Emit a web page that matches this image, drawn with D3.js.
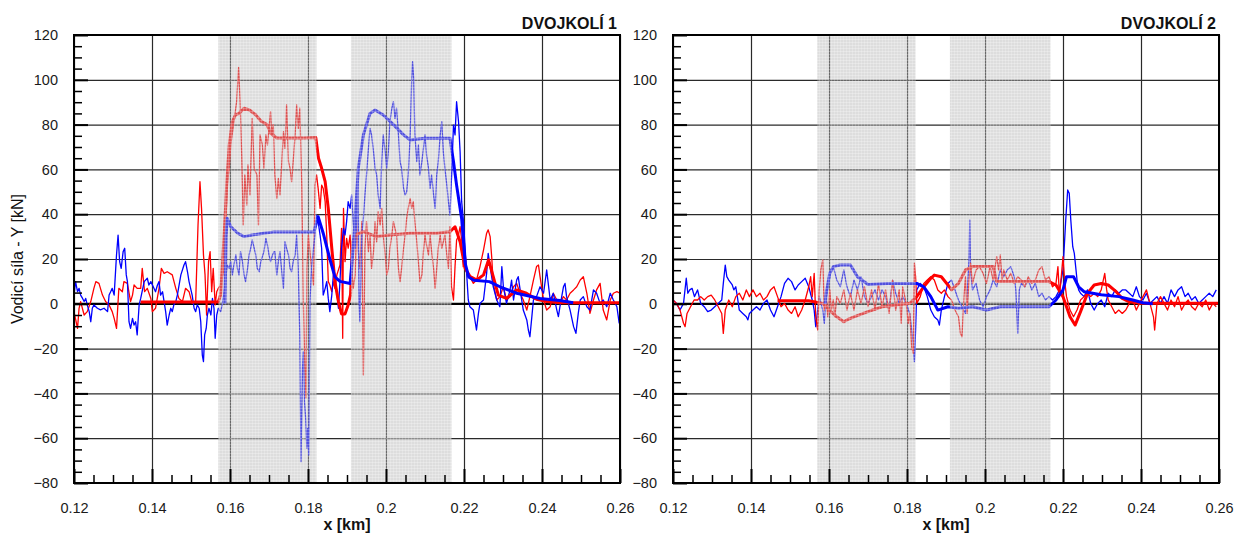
<!DOCTYPE html>
<html>
<head>
<meta charset="utf-8">
<script src="https://cdn.jsdelivr.net/npm/d3@7"></script>
<style>
  body { margin: 0; background: #fff; }
  svg { display: block; font-family: "Liberation Sans", Arial, sans-serif; }
</style>
</head>
<body>
<svg width="1235" height="534"></svg>
<script>
// tick labels
let xTicks = [0.12, 0.14, 0.16, 0.18, 0.2, 0.22, 0.24, 0.26];
let xTickLabels = ["0.12", "0.14", "0.16", "0.18", "0.2", "0.22", "0.24", "0.26"];
let yTicks = [-80, -60, -40, -20, 0, 20, 40, 60, 80, 100, 120];
let xMinor = d3.range(0.125, 0.26, 0.005);
let yMinor = d3.range(-75, 120, 5);
// grey zones (km)
let zones = [[0.157, 0.1822], [0.191, 0.2168]];

// DVOJKOLÍ 1 - raw and filtered guiding force [x km, Y kN]
let w1RedRaw = [[.1200,-3.5],[.1209,-11],[.1213,-2],[.1217,1],[.1226,-5],[.1234,-3.5],[.1243,1],[.1251,6.9],[.1256,9.9],[.1264,9.1],[.1273,3.9],[.1281,1],[.1290,-0.5],[.1298,-3.5],[.1303,-6.5],[.1309,-11],[.1315,6.9],[.1324,5.4],[.1328,9.9],[.1337,9.1],[.1345,1],[.1350,3.9],[.1354,8.4],[.1362,6.9],[.1371,6.9],[.1375,15.8],[.1381,5.4],[.1388,6.9],[.1397,2.4],[.1401,-3.5],[.1409,-2],[.1418,6.9],[.1424,15.8],[.1431,13.6],[.1439,14.3],[.1452,12.9],[.1461,6.9],[.1469,2.4],[.1478,1],[.1486,6.9],[.1495,5.4],[.1503,0.2],[.1512,1],[.1518,35.2],[.1523,54.5],[.1527,42.6],[.1532,21.8],[.1536,12.9],[.1540,-5],[.1545,18.8],[.1549,23.3],[.1553,5.4],[.1557,15.8],[.1562,-0.5],[.1566,5.4],[.1570,6.9],[.1576,8.4],[.1585,15.8],[.1589,33.7],[.1593,53],[.1598,60.5],[.1602,70.9],[.1610,81.3],[.1617,90.2],[.1622,105.5],[.1626,90.2],[.1630,66.4],[.1634,35.2],[.1638,57.5],[.1643,44.1],[.1646,62],[.1651,48.6],[.1657,82.8],[.1662,60.5],[.1669,57.5],[.1673,35.2],[.1677,75.4],[.1683,70.9],[.1687,60.5],[.1692,75.4],[.1696,70.9],[.1704,85.8],[.1707,75.4],[.1711,80],[.1715,57.5],[.1720,47],[.1724,56],[.1728,48.6],[.1732,60.5],[.1737,76.8],[.1741,69.4],[.1745,88.8],[.1750,63.5],[.1754,60.5],[.1758,54.5],[.1762,63.5],[.1767,75.4],[.1771,88.8],[.1775,78.3],[.1779,87.3],[.1784,53],[.1788,1],[.1792,-28.8],[.1795,-42],[.1797,15.8],[.1801,30.7],[.1805,23.3],[.1809,15.8],[.1814,8.4],[.1818,53],[.1822,57.5],[.1826,51.5],[.1831,42.6],[.1835,53],[.1839,51.5],[.1844,45.6],[.1848,30.7],[.1852,9.9],[.1856,8.4],[.1861,5.4],[.1865,9.9],[.1869,6.9],[.1874,12.9],[.1882,17.3],[.1886,33.7],[.1889,-15.4],[.1891,42.6],[.1895,18.8],[.1899,29.2],[.1903,24.8],[.1908,30.7],[.1912,15.8],[.1916,6.9],[.1921,12.9],[.1925,36.7],[.1929,23.3],[.1933,15.8],[.1938,36.7],[.1942,-31.8],[.1946,24.8],[.1950,36.7],[.1955,23.3],[.1959,30.7],[.1963,15.8],[.1968,23.3],[.1972,36.7],[.1976,27.7],[.1980,41.1],[.1985,35.2],[.1989,42.6],[.1993,30.7],[.1998,21.8],[.2002,12.9],[.2006,15.8],[.2010,24.8],[.2015,30.7],[.2019,36.7],[.2023,33.7],[.2027,30.7],[.2032,15.8],[.2036,9.9],[.2040,15.8],[.2045,24.8],[.2049,30.7],[.2053,38.2],[.2057,42.6],[.2062,47],[.2066,42.6],[.2070,45.6],[.2074,36.7],[.2079,27.7],[.2083,18.8],[.2087,9.9],[.2092,12.9],[.2096,23.3],[.2100,30.7],[.2104,26.2],[.2109,21.8],[.2113,30.7],[.2117,23.3],[.2122,15.8],[.2126,6.9],[.2130,15.8],[.2134,24.8],[.2139,30.7],[.2143,24.8],[.2147,27.7],[.2151,30.7],[.2156,21.8],[.2160,15.8],[.2164,34.4],[.2168,7.6],[.2173,1.7],[.2177,16.6],[.2181,28.5],[.2185,30],[.2190,34.4],[.2194,28.5],[.2198,16.6],[.2203,22.5],[.2207,13.6],[.2215,12.1],[.2224,9.1],[.2232,10.6],[.2241,16.6],[.2250,24],[.2258,31.5],[.2262,33],[.2267,30],[.2271,21],[.2275,9.1],[.2284,1.7],[.2292,3.2],[.2301,7.6],[.2309,1.7],[.2318,3.2],[.2327,7.6],[.2335,9.1],[.2344,4.7],[.2352,1.7],[.2361,-2.8],[.2369,3.2],[.2378,10.6],[.2386,16.6],[.2391,17.3],[.2395,12.1],[.2404,1.7],[.2412,-2.8],[.2421,-1.3],[.2429,4.7],[.2438,1.7],[.2446,0.2],[.2455,3.2],[.2463,1.7],[.2472,4.7],[.2481,6.2],[.2489,7.6],[.2498,10.6],[.2506,12.1],[.2515,4.7],[.2523,-4.3],[.2532,1.7],[.2540,6.2],[.2549,9.1],[.2557,-2.8],[.2566,-7.2],[.2575,1.7],[.2583,4.7],[.2592,5.4],[.2600,4.7]];

let w1BlueRaw = [[.1200,3.9],[.1204,9.9],[.1209,5.4],[.1213,6.9],[.1217,3.9],[.1222,2.4],[.1226,1],[.1230,2.4],[.1234,-0.5],[.1239,-3.5],[.1243,-8],[.1247,-2],[.1251,-0.5],[.1260,-2],[.1268,-2.7],[.1277,-2],[.1286,-3.5],[.1290,3.9],[.1294,5.4],[.1298,6.9],[.1303,3.9],[.1307,15.8],[.1309,21.8],[.1313,30.7],[.1317,18.8],[.1321,15.8],[.1326,23.3],[.1330,24.8],[.1334,12.9],[.1337,9.9],[.1341,-8],[.1345,-11],[.1350,-6.5],[.1354,-9.5],[.1358,-8],[.1362,-13.9],[.1367,-0.5],[.1371,2.4],[.1380,9.9],[.1388,11.4],[.1392,8.4],[.1397,9.9],[.1405,6.9],[.1409,5.4],[.1414,8.4],[.1418,9.9],[.1422,3.9],[.1427,5.4],[.1431,1],[.1435,-3.5],[.1439,-9.5],[.1444,-5],[.1448,-2],[.1452,-3.5],[.1456,-0.5],[.1461,1],[.1465,3.9],[.1474,12.9],[.1482,17.3],[.1486,18.8],[.1491,14.3],[.1495,9.9],[.1499,6.9],[.1503,3.9],[.1508,-2],[.1512,-3.5],[.1516,-0.5],[.1521,-2],[.1525,-8],[.1529,-22.9],[.1532,-25.8],[.1535,-13.9],[.1539,-11],[.1542,-5],[.1546,-2],[.1551,-5],[.1555,2.4],[.1559,-2],[.1562,-15.4],[.1566,-5],[.1570,-2],[.1576,-3.5],[.1580,-0.5],[.1585,5.4],[.1589,11.4],[.1593,17.3],[.1598,15.8],[.1602,18.8],[.1606,12.9],[.1610,17.3],[.1615,21.8],[.1619,15.8],[.1623,12.9],[.1627,23.3],[.1632,18.8],[.1636,12.9],[.1640,9.9],[.1645,15.8],[.1649,21.8],[.1653,24.8],[.1657,28.5],[.1662,24.8],[.1666,21.8],[.1670,15.8],[.1675,14.3],[.1679,18.8],[.1687,23.3],[.1692,29.2],[.1696,26.2],[.1700,21.8],[.1704,18.8],[.1709,21.8],[.1713,23.3],[.1715,23.3],[.1720,12.9],[.1724,18.8],[.1728,23.3],[.1732,15.8],[.1737,6.9],[.1741,27.7],[.1745,24.8],[.1750,21.8],[.1754,15.8],[.1758,14.3],[.1762,18.8],[.1767,21.8],[.1771,30.7],[.1775,15.8],[.1779,-13.9],[.1782,-70.5],[.1786,-28.8],[.1788,-21.4],[.1791,-43.7],[.1794,-51],[.1797,-64.5],[.1799,-55.6],[.1802,-67.5],[.1805,1],[.1809,15.8],[.1814,24.8],[.1818,30.7],[.1822,39.6],[.1826,36.7],[.1831,30.7],[.1835,24.8],[.1839,3.9],[.1844,6.9],[.1848,9.9],[.1852,2.4],[.1856,-3.5],[.1861,3.9],[.1865,12.9],[.1869,11.4],[.1874,5.4],[.1878,-2],[.1882,9.9],[.1886,24.8],[.1891,33.7],[.1895,30.7],[.1899,36.7],[.1903,45.6],[.1908,42.6],[.1912,48.6],[.1916,36.7],[.1921,24.8],[.1925,36.7],[.1928,54.5],[.1931,1],[.1933,-8],[.1938,30.7],[.1942,38.2],[.1946,48.6],[.1950,57.5],[.1955,69.4],[.1959,78.3],[.1963,75.4],[.1968,67.9],[.1972,60.5],[.1976,57.5],[.1980,48.6],[.1985,42.6],[.1989,63.5],[.1993,75.4],[.1998,67.9],[.2002,60.5],[.2006,67.9],[.2010,81.3],[.2015,87.3],[.2019,90.2],[.2023,82.8],[.2027,87.3],[.2032,75.4],[.2036,63.5],[.2040,60.5],[.2045,51.5],[.2049,48.6],[.2053,50],[.2057,57.5],[.2062,75.4],[.2066,100.7],[.2068,108.1],[.2071,100.7],[.2074,75.4],[.2079,63.5],[.2083,70.9],[.2087,57.5],[.2092,63.5],[.2096,69.4],[.2100,75.4],[.2104,66.4],[.2109,60.5],[.2113,51.5],[.2117,57.5],[.2122,48.6],[.2126,42.6],[.2130,57.5],[.2134,63.5],[.2139,75.4],[.2143,81.3],[.2147,67.9],[.2151,60.5],[.2156,53],[.2160,45.6],[.2164,39.6],[.2169,60.5],[.2173,79.8],[.2177,75.4],[.2181,90.2],[.2186,81.3],[.2190,67.9],[.2194,45.6],[.2198,38.2],[.2203,24.8],[.2207,12.9],[.2211,1.7],[.2215,-1.3],[.2224,-2.8],[.2232,-11.7],[.2237,-4.3],[.2241,0.2],[.2250,1.7],[.2258,13.6],[.2262,22.5],[.2267,16.6],[.2275,7.6],[.2284,1.7],[.2292,-1.3],[.2297,16.6],[.2301,7.6],[.2309,0.2],[.2318,6.2],[.2322,10.6],[.2327,1.7],[.2335,10.6],[.2339,12.1],[.2344,6.2],[.2352,-2.8],[.2361,-7.2],[.2365,-11.7],[.2369,-14.7],[.2374,-5.7],[.2378,1.7],[.2386,3.2],[.2395,7.6],[.2404,4.7],[.2412,15.1],[.2416,9.1],[.2421,1.7],[.2429,4.7],[.2438,-2.8],[.2442,-5.7],[.2446,-1.3],[.2455,7.6],[.2459,9.1],[.2463,3.2],[.2472,-2.8],[.2481,-10.2],[.2487,-13.2],[.2493,-4.3],[.2498,1.7],[.2506,3.2],[.2515,-1.3],[.2523,-2.8],[.2532,6.2],[.2540,4.7],[.2549,0.2],[.2557,1.7],[.2566,-1.3],[.2575,4.7],[.2583,1.7],[.2592,-1.3],[.2598,-8.7]];

let w1RedMean = [[.1371,0.8],[.1570,0.8],[.1576,4],[.1585,30.7],[.1592,54.5],[.1598,70.9],[.1606,81.3],[.1614,84.3],[.1623,85],[.1636,87.3],[.1650,86.5],[.1665,84.5],[.1680,81.5],[.1695,80],[.1705,76],[.1720,74],[.1750,74],[.1790,74],[.1820,74.2],[.1827,65],[.1835,60.5],[.1844,54.5],[.1852,42.6],[.1861,24.8],[.1869,9.9],[.1878,1],[.1886,-4.5],[.1895,-4.5],[.1903,-0.5],[.1909,4],[.1915,27.7],[.1921,30.7],[.1942,32.2],[.1976,30],[.2010,30.7],[.2062,31.5],[.2130,31.5],[.2164,32.2],[.2177,34.4],[.2190,27.7],[.2203,15.8],[.2216,12.1],[.2233,10.6],[.2250,12.9],[.2263,19.6],[.2275,12.1],[.2288,3.9],[.2309,2.4],[.2335,6.2],[.2360,4.7],[.2386,2],[.2412,1],[.2446,0.5],[.2600,0.5]];

let w1BlueMean = [[.1587,0],[.1590,30],[.1593,38.2],[.1602,34.4],[.1620,31.5],[.1636,30],[.1660,30.8],[.1686,31.5],[.1710,32],[.1815,32],[.1826,38.9],[.1839,31.5],[.1856,20],[.1869,12],[.1882,10],[.1908,9.1],[.1916,25],[.1929,60.5],[.1942,75.4],[.1959,85],[.1972,86.5],[.1993,84.3],[.2019,80],[.2045,75.4],[.2062,73.1],[.2100,73.9],[.2164,73.9],[.2173,63.5],[.2181,53],[.2194,38],[.2203,18],[.2212,12],[.2225,10.5],[.2265,9.9],[.2292,7.6],[.2335,4.7],[.2395,2.4],[.2446,1.5],[.2480,0.5]];

// DVOJKOLÍ 2
let w2BlueRaw = [[.1200,1.7],[.1209,0.2],[.1218,-2.8],[.1227,0.2],[.1234,11.4],[.1238,4.7],[.1243,6.2],[.1249,6.9],[.1255,3.2],[.1263,6.2],[.1271,0.2],[.1280,-1.3],[.1289,-3.5],[.1298,-2.8],[.1307,-1.3],[.1316,0.2],[.1325,1.7],[.1329,9.1],[.1334,17.3],[.1338,12.1],[.1343,10.6],[.1352,8.4],[.1356,6.2],[.1361,7.6],[.1365,3.2],[.1370,-2.8],[.1379,-4.3],[.1388,-5.8],[.1392,-7.2],[.1396,-4.3],[.1405,-2.8],[.1414,-1.3],[.1423,-2.8],[.1432,0.2],[.1441,1.7],[.1450,-2.8],[.1459,-5.8],[.1468,-1.3],[.1477,3.2],[.1486,9.1],[.1495,11.4],[.1504,9.9],[.1513,6.2],[.1521,8.4],[.1530,9.9],[.1539,11.4],[.1548,7.6],[.1557,1.7],[.1562,-2.8],[.1566,-10.2],[.1571,-2.8],[.1575,3.2],[.1584,-2.8],[.1588,-8.7],[.1593,3.2],[.1602,12.1],[.1606,15.1],[.1611,16.6],[.1620,10.6],[.1629,7.6],[.1638,15.1],[.1646,7.6],[.1655,3.2],[.1664,10.6],[.1673,6.2],[.1682,12.1],[.1691,3.2],[.1700,0.2],[.1709,3.2],[.1718,6.2],[.1727,1.7],[.1736,6.2],[.1745,3.2],[.1754,-2.8],[.1763,10.6],[.1771,4.7],[.1780,0.2],[.1789,3.2],[.1798,0.2],[.1807,-4.3],[.1816,-17.7],[.1819,-25.8],[.1822,-11.7],[.1825,6.2],[.1834,9.1],[.1843,7.6],[.1852,3.2],[.1861,-2.8],[.1870,-5.8],[.1879,-7.2],[.1883,-9.5],[.1888,-2.8],[.1896,3.2],[.1905,9.1],[.1914,10.6],[.1923,6.2],[.1932,1.7],[.1941,-1.3],[.1950,-4.3],[.1954,3.2],[.1959,19.6],[.1961,37.4],[.1963,15.1],[.1968,6.2],[.1977,9.1],[.1986,1.7],[.1995,-1.3],[.2004,3.2],[.2013,6.2],[.2021,10.6],[.2030,7.6],[.2039,15.1],[.2048,12.1],[.2057,15.1],[.2066,16.6],[.2075,12.1],[.2079,6.2],[.2084,-13.2],[.2088,6.2],[.2093,9.1],[.2102,7.6],[.2111,10.6],[.2120,6.2],[.2129,9.1],[.2138,3.2],[.2146,4.7],[.2155,1.7],[.2164,3.2],[.2173,1.7],[.2182,3.2],[.2191,6.2],[.2200,15.1],[.2207,37.4],[.2212,50.8],[.2216,49.3],[.2220,37.4],[.2225,25.5],[.2229,22.5],[.2236,10.6],[.2240,6.2],[.2245,4.7],[.2254,3.2],[.2263,6.2],[.2271,0.2],[.2280,-2.8],[.2289,0.2],[.2298,1.7],[.2307,-1.3],[.2316,4.7],[.2325,3.2],[.2334,6.2],[.2343,4.7],[.2352,6.2],[.2361,6.2],[.2370,4.7],[.2379,3.2],[.2388,7.6],[.2396,3.2],[.2405,1.7],[.2414,4.7],[.2423,0.2],[.2432,1.7],[.2441,3.2],[.2450,0.2],[.2459,3.2],[.2468,0.2],[.2477,6.2],[.2486,3.2],[.2495,6.2],[.2504,7.6],[.2513,3.2],[.2521,4.7],[.2530,1.7],[.2539,3.2],[.2548,0.2],[.2557,1.7],[.2566,3.2],[.2575,4.7],[.2584,3.2],[.2593,6.2]];

let w2RedRaw = [[.1200,1.7],[.1209,0.2],[.1218,-2.8],[.1227,-8.7],[.1231,-10.2],[.1236,-4.3],[.1245,-1.3],[.1254,1.7],[.1263,1.7],[.1271,3.2],[.1280,1.7],[.1289,3.2],[.1298,3.9],[.1307,1.7],[.1316,-1.3],[.1325,-4.3],[.1329,-13.2],[.1334,-2.8],[.1343,1.7],[.1352,-1.3],[.1361,3.2],[.1370,4.7],[.1379,1.7],[.1388,6.2],[.1396,3.2],[.1405,6.2],[.1414,3.2],[.1423,4.7],[.1432,1.7],[.1441,3.2],[.1450,6.2],[.1459,7.6],[.1468,3.2],[.1477,-1.3],[.1486,0.2],[.1495,-2.8],[.1504,-4.3],[.1513,-1.3],[.1521,-5.8],[.1530,-2.8],[.1539,1.7],[.1548,7.6],[.1553,12.1],[.1557,3.2],[.1562,13.6],[.1566,-5.8],[.1571,-11.7],[.1575,6.2],[.1579,15.1],[.1584,19.6],[.1588,-2.8],[.1593,3.2],[.1597,-5.8],[.1602,6.2],[.1606,-2.8],[.1611,1.7],[.1615,-5.8],[.1620,3.2],[.1629,0.2],[.1638,6.2],[.1646,-2.8],[.1655,4.7],[.1664,-2.8],[.1673,6.2],[.1682,0.2],[.1691,7.6],[.1700,-1.3],[.1709,6.2],[.1718,-2.8],[.1727,9.1],[.1736,-1.3],[.1745,6.2],[.1754,-4.3],[.1763,10.6],[.1771,-2.8],[.1780,6.2],[.1785,-8.7],[.1789,7.6],[.1798,0.2],[.1803,-8.7],[.1807,-4.3],[.1812,-19.2],[.1816,-22.1],[.1819,18.1],[.1822,12.1],[.1825,0.2],[.1834,3.2],[.1843,9.1],[.1852,10.6],[.1861,12.1],[.1870,10.6],[.1879,6.2],[.1888,4.7],[.1896,6.2],[.1905,3.2],[.1914,1.7],[.1923,-2.8],[.1932,-5.8],[.1937,-13.2],[.1941,-14.7],[.1946,3.2],[.1950,12.1],[.1954,-4.3],[.1959,10.6],[.1963,18.1],[.1968,9.1],[.1977,15.1],[.1986,16.6],[.1995,13.6],[.2004,9.1],[.2013,16.6],[.2021,10.6],[.2030,21],[.2035,15.1],[.2039,21.8],[.2044,10.6],[.2048,15.1],[.2057,10.6],[.2066,13.6],[.2075,9.1],[.2084,12.1],[.2093,10.6],[.2102,7.6],[.2111,12.1],[.2120,9.1],[.2129,10.6],[.2138,15.1],[.2146,16.6],[.2155,10.6],[.2164,12.1],[.2173,7.6],[.2182,9.1],[.2187,16.6],[.2191,3.2],[.2200,21],[.2204,10.6],[.2209,3.2],[.2218,-2.8],[.2227,-5.8],[.2236,-2.8],[.2245,1.7],[.2254,3.2],[.2263,4.7],[.2271,3.2],[.2280,4.7],[.2289,3.2],[.2298,6.2],[.2307,13.6],[.2312,6.2],[.2316,1.7],[.2325,-1.3],[.2334,-4.3],[.2343,-2.8],[.2352,-4.3],[.2361,-2.8],[.2370,0.2],[.2379,1.7],[.2388,-2.8],[.2396,0.2],[.2405,3.2],[.2414,6.2],[.2423,0.2],[.2432,-5.8],[.2435,-11.7],[.2441,0.2],[.2450,3.2],[.2459,0.2],[.2468,-2.8],[.2477,1.7],[.2486,-1.3],[.2495,3.2],[.2504,-2.8],[.2513,0.2],[.2521,1.7],[.2530,-1.3],[.2539,-2.8],[.2548,0.2],[.2557,-1.3],[.2566,1.7],[.2575,-2.8],[.2584,0.2],[.2593,-1.3]];

let w2RedMean = [[.1468,1.4],[.1548,1.4],[.1584,0.2],[.1602,-3],[.1620,-5.8],[.1638,-8],[.1646,-7.2],[.1664,-5.8],[.1700,-3.5],[.1736,-1.3],[.1771,-0.5],[.1807,0.2],[.1825,3.2],[.1843,7.6],[.1861,11.4],[.1870,12.8],[.1888,12.1],[.1905,8.4],[.1914,6.2],[.1932,9.1],[.1950,15.1],[.1968,16.6],[.2021,16.6],[.2030,9.9],[.2164,9.9],[.2182,8.4],[.2200,3.2],[.2218,-5.8],[.2231,-9.5],[.2245,-3.5],[.2263,4.7],[.2280,8.4],[.2298,9.1],[.2316,8.4],[.2334,5.8],[.2352,2.4],[.2370,0.9],[.2400,0.2],[.2600,0.2]];

let w2BlueMean = [[.1590,0],[.1593,5],[.1602,13.6],[.1611,16.6],[.1629,17.3],[.1655,17.3],[.1673,12.1],[.1700,8.6],[.1750,9.1],[.1816,9.1],[.1825,9.1],[.1843,7.6],[.1861,3.2],[.1879,-2.8],[.1905,-1.3],[.1932,-2.0],[.1968,-1.3],[.2004,-2.8],[.2039,-1.3],[.2164,-1.3],[.2182,1.7],[.2200,6.2],[.2209,12.1],[.2227,12.1],[.2240,7.6],[.2254,5.4],[.2298,4],[.2343,3.2],[.2379,1.7],[.2405,0.5],[.2430,0]];

let panels = [
	{title: "DVOJKOLÍ 1", left: 74, lines: [[w1RedRaw, "#ff0000", 1.3], [w1BlueRaw, "#0000ff", 1.3], [w1RedMean, "#ff0000", 3], [w1BlueMean, "#0000ff", 3]]},
	{title: "DVOJKOLÍ 2", left: 673, lines: [[w2BlueRaw, "#0000ff", 1.3], [w2RedRaw, "#ff0000", 1.3], [w2RedMean, "#ff0000", 3], [w2BlueMean, "#0000ff", 3]]}
];

let plotW = 546;
let plotTop = 35;
let plotH = 448;

var svg = d3.select("svg");

// fine dotted screen over the grey zones
let pat = svg.append("defs")
	.append("pattern")
	.attr("id", "screen")
	.attr("width", 3)
	.attr("height", 3)
	.attr("patternUnits", "userSpaceOnUse");
pat.append("rect").attr("width", 3).attr("height", 3).attr("fill", "#b4b4b4").attr("fill-opacity", 0.45);
pat.append("rect").attr("x", 0).attr("y", 0).attr("width", 3).attr("height", 1).attr("fill", "#ffffff").attr("fill-opacity", 0.25);
pat.append("rect").attr("x", 0).attr("y", 0).attr("width", 1).attr("height", 3).attr("fill", "#ffffff").attr("fill-opacity", 0.2);

let yScale = d3.scaleLinear()
	.domain([-80, 120])
	.range([plotTop + plotH, plotTop]);

panels.forEach((p, i) => {
	let xScale = d3.scaleLinear()
		.domain([0.12, 0.26])
		.range([p.left, p.left + plotW]);

	svg.append("clipPath")
		.attr("id", "clip" + i)
		.append("rect")
		.attr("x", p.left)
		.attr("y", plotTop)
		.attr("width", plotW)
		.attr("height", plotH);

	let g = svg.append("g");

	// grid
	g.append("g")
		.attr("transform", `translate(0, ${plotTop + plotH})`)
		.call(d3.axisBottom(xScale).tickValues(xTicks).tickSize(-plotH).tickFormat(""))
		.call(a => a.select(".domain").remove())
		.call(a => a.selectAll("line").attr("stroke", "#2a2a2a").attr("stroke-width", 1.2));
	g.append("g")
		.attr("transform", `translate(${p.left}, 0)`)
		.call(d3.axisLeft(yScale).tickValues(yTicks).tickSize(-plotW).tickFormat(""))
		.call(a => a.select(".domain").remove())
		.call(a => a.selectAll("line").attr("stroke", "#2a2a2a").attr("stroke-width", 1.2));

	let plot = g.append("g").attr("clip-path", `url(#clip${i})`);

	// zero line
	plot.append("line")
		.attr("x1", p.left).attr("x2", p.left + plotW)
		.attr("y1", yScale(0)).attr("y2", yScale(0))
		.attr("stroke", "#000")
		.attr("stroke-width", 2.2);

	let line = d3.line()
		.x(d => xScale(d[0]))
		.y(d => yScale(d[1]));

	p.lines.forEach(l => {
		plot.append("path")
			.datum(l[0])
			.attr("d", line)
			.attr("fill", "none")
			.attr("stroke", l[1])
			.attr("stroke-width", l[2])
			.attr("stroke-linejoin", "round");
	});

	// grey zones over the traces
	plot.selectAll("rect.zone")
		.data(zones)
		.enter()
		.append("rect")
		.attr("class", "zone")
		.attr("x", d => xScale(d[0]))
		.attr("y", plotTop)
		.attr("width", d => xScale(d[1]) - xScale(d[0]))
		.attr("height", plotH)
		.attr("fill", "url(#screen)");

	// ticks + labels
	let yAx = g.append("g")
		.attr("transform", `translate(${p.left}, 0)`)
		.call(d3.axisLeft(yScale).tickValues(yTicks).tickSize(-14).tickPadding(16));
	yAx.select(".domain").remove();
	yAx.selectAll("line").attr("stroke", "#000").attr("stroke-width", 2);
	yAx.selectAll("text").attr("font-size", "14.5px").attr("fill", "#1a1a1a").attr("font-family", "Liberation Sans, Arial, sans-serif");

	let yMin = g.append("g")
		.attr("transform", `translate(${p.left}, 0)`)
		.call(d3.axisLeft(yScale).tickValues(yMinor.filter(v => v % 20 !== 0)).tickSize(-8).tickFormat(""));
	yMin.select(".domain").remove();
	yMin.selectAll("line").attr("stroke", "#000").attr("stroke-width", 1.5);

	let xAx = g.append("g")
		.attr("transform", `translate(0, ${plotTop + plotH})`)
		.call(d3.axisBottom(xScale).tickValues(xTicks).tickSize(-14).tickPadding(20).tickFormat((d, j) => xTickLabels[j]));
	xAx.select(".domain").remove();
	xAx.selectAll("line").attr("stroke", "#000").attr("stroke-width", 2);
	xAx.selectAll("text").attr("font-size", "14.5px").attr("fill", "#1a1a1a").attr("font-family", "Liberation Sans, Arial, sans-serif");

	let xMin = g.append("g")
		.attr("transform", `translate(0, ${plotTop + plotH})`)
		.call(d3.axisBottom(xScale).tickValues(xMinor.filter((v, j) => j % 4 !== 3)).tickSize(-8).tickFormat(""));
	xMin.select(".domain").remove();
	xMin.selectAll("line").attr("stroke", "#000").attr("stroke-width", 1.5);

	// frame
	g.append("rect")
		.attr("x", p.left)
		.attr("y", plotTop)
		.attr("width", plotW)
		.attr("height", plotH)
		.attr("fill", "none")
		.attr("stroke", "#000")
		.attr("stroke-width", 2);

	// title
	g.append("text")
		.text(p.title)
		.attr("x", p.left + plotW - 3)
		.attr("y", 29)
		.attr("text-anchor", "end")
		.attr("font-size", "16px")
		.attr("font-weight", "bold")
		.attr("fill", "#111");

	// x axis label
	g.append("text")
		.text("x [km]")
		.attr("x", p.left + plotW / 2)
		.attr("y", 530)
		.attr("text-anchor", "middle")
		.attr("font-size", "16px")
		.attr("font-weight", "bold")
		.attr("fill", "#111");
});

// y axis label
svg.append("text")
	.text("Vodicí síla - Y [kN]")
	.attr("transform", "rotate(-90)")
	.attr("x", -(plotTop + plotH / 2))
	.attr("y", 23)
	.attr("text-anchor", "middle")
	.attr("font-size", "16px")
	.attr("fill", "#111");
</script>
</body>
</html>
